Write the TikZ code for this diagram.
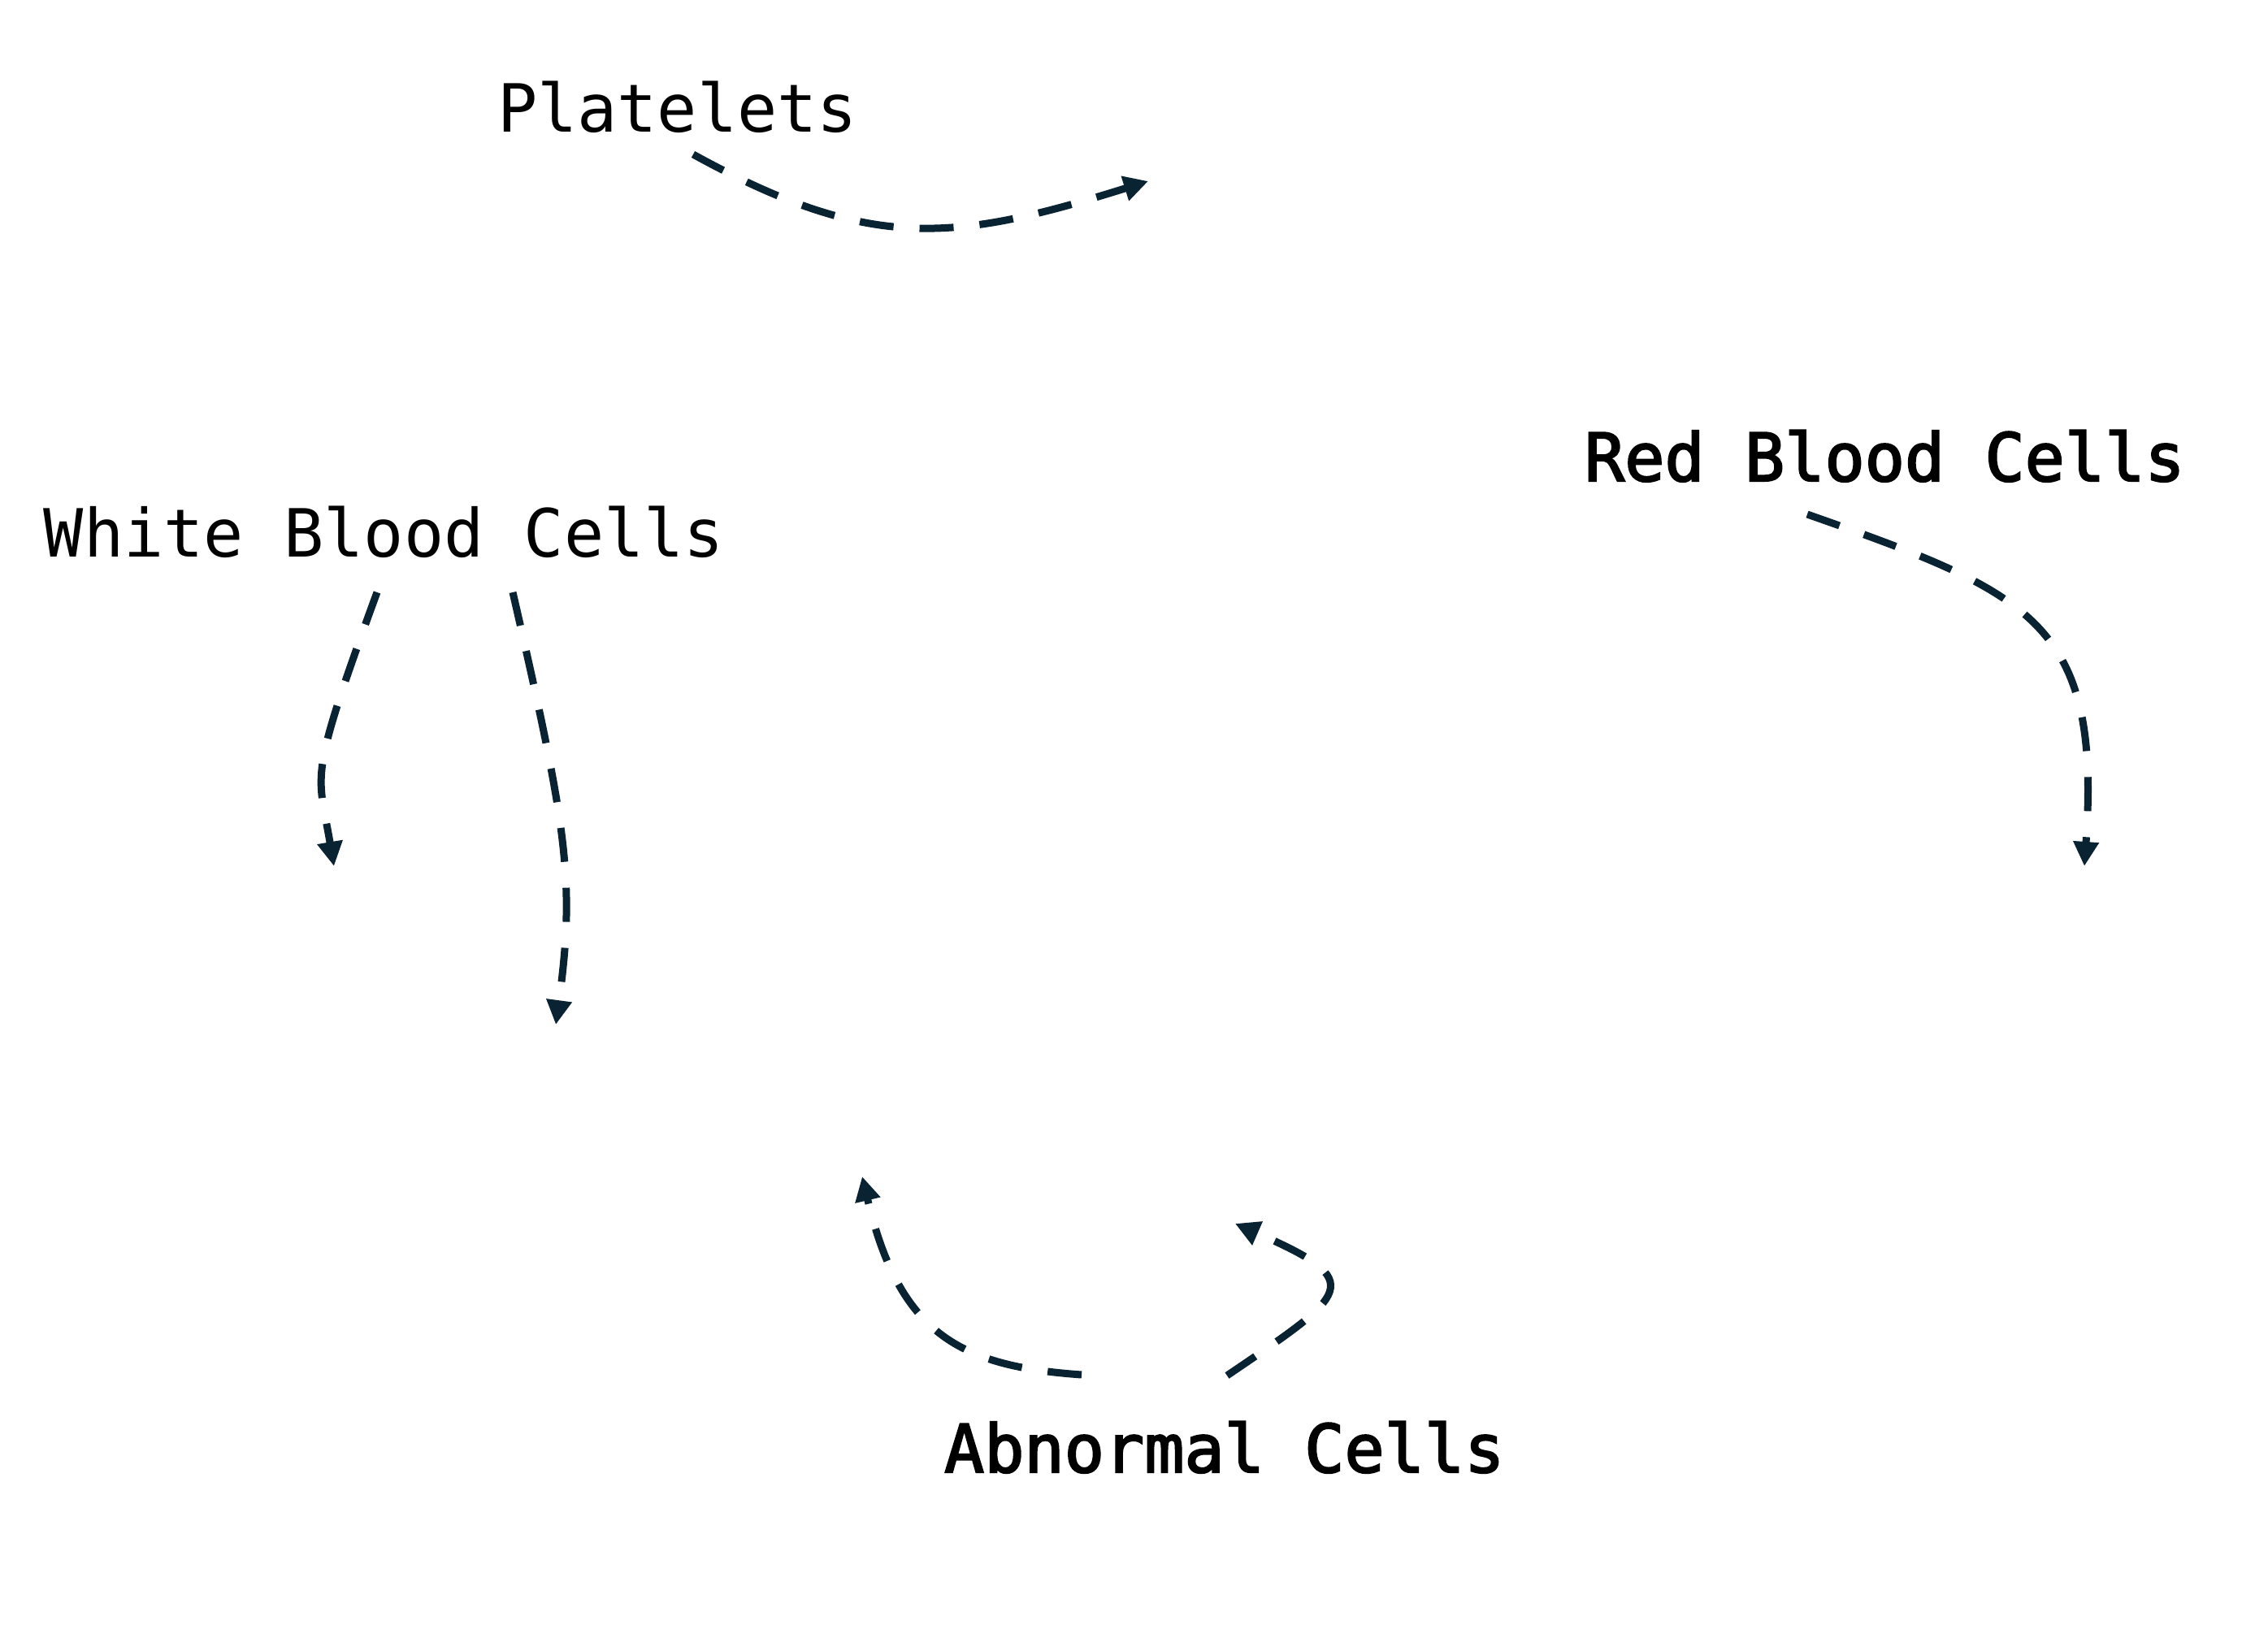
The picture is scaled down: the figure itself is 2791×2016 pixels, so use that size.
\documentclass[tikz,border=0pt]{standalone}
\usepackage{fontspec}
\newfontfamily\monofont{DejaVu Sans Mono}
\newfontfamily\monomed[FakeBold=2.6]{DejaVu Sans Mono}
\usetikzlibrary{arrows.meta}
\definecolor{edgecol}{HTML}{0A2333}
\tikzset{
  lbl/.style={inner sep=0pt, outer sep=0pt, anchor=base west, text=black,
    font=\monofont\fontsize{40.9}{49}\selectfont},
  lblbold/.style={lbl, font=\monomed\fontsize{40.9}{49}\selectfont},
  flow/.style={draw=edgecol, line width=4.5pt, dash pattern=on 21pt off 16pt,
    -{Triangle[length=15pt,width=15pt]}}
}
\begin{document}
\begin{tikzpicture}[x=0.5pt,y=-0.5pt]
\fill[white] (0,0) rectangle (2791,2016);
\useasboundingbox (0,0) rectangle (2791,2016);
% labels
\node[lbl] (plt) at (612,163) {Platelets};
\node[lbl] (wbc) at (54,686) {White Blood Cells};
\node[lblbold] (rbc) at (1950,592) {Red Blood Cells};
\node[lblbold] (abn) at (1162,1812) {Abnormal Cells};
% free ends
\coordinate (p1s) at (853,190);
\coordinate (p1e) at (1413,223);
\coordinate (w1s) at (464,729);
\coordinate (w1e) at (411,1066);
\coordinate (w2s) at (631,729);
\coordinate (w2e) at (684,1261);
\coordinate (r1s) at (2224,633);
\coordinate (r1e) at (2565,1066);
\coordinate (a1s) at (1331,1692);
\coordinate (a1e) at (1061,1448);
\coordinate (a2s) at (1510,1693);
\coordinate (a2e) at (1520,1506);
% connectors
\draw[flow] (p1s) .. controls (1071,310) and (1173,298) .. (p1e);
\draw[flow] (w1s) .. controls (378,964) and (391,948) .. (w1e);
\draw[flow] (w2s) .. controls (698,1020) and (708,1085) .. (w2e);
\draw[flow] (r1s) .. controls (2500,730) and (2586,766) .. (r1e);
\draw[flow] (a1s) .. controls (1181,1681.5) and (1107,1642) .. (a1e);
\draw[flow] (a2s) .. controls (1660,1591) and (1685,1578) .. (a2e);
\end{tikzpicture}
\end{document}
